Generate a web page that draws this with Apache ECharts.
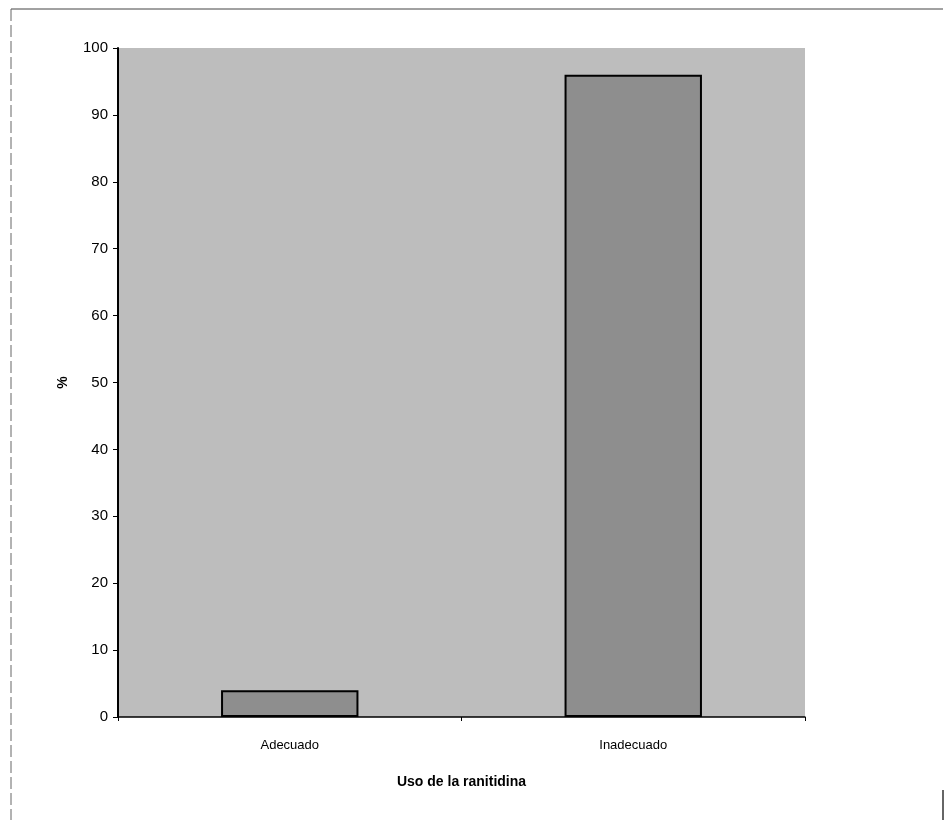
<!DOCTYPE html>
<html>
<head>
<meta charset="utf-8">
<script src="https://cdn.jsdelivr.net/npm/echarts@6/dist/echarts.min.js"></script>
<style>
html,body{margin:0;padding:0;background:#fff;}
#chart{width:947px;height:820px;}
</style>
</head>
<body>
<div id="chart"></div>
<script>
const categories = ['Adecuado', 'Inadecuado'];
const values = [4, 96];
const yTicks = [0, 10, 20, 30, 40, 50, 60, 70, 80, 90, 100];
const yAxisTitle = '%';
const xAxisTitle = 'Uso de la ranitidina';

const chart = echarts.init(document.getElementById('chart'));
chart.setOption({
  backgroundColor: '#ffffff',
  animation: false,
  grid: {
    left: 118, right: 142, top: 48, bottom: 103,
    show: true, backgroundColor: '#bdbdbd', borderWidth: 0
  },
  xAxis: {
    type: 'category',
    data: categories,
    name: xAxisTitle,
    nameLocation: 'middle',
    nameGap: 58,
    nameTextStyle: { fontFamily: 'Liberation Sans, Arial', fontSize: 14, fontWeight: 'bold', color: '#000' },
    axisLine: { lineStyle: { color: '#000', width: 1.5 } },
    axisTick: { show: true, alignWithLabel: false, length: 4, lineStyle: { color: '#000' } },
    axisLabel: { color: '#000', fontFamily: 'Liberation Sans, Arial', fontSize: 13, margin: 22 }
  },
  yAxis: {
    type: 'value',
    min: yTicks[0], max: yTicks[yTicks.length - 1], interval: 10,
    name: yAxisTitle,
    nameLocation: 'middle',
    nameGap: 48,
    nameRotate: 90,
    nameTextStyle: { fontFamily: 'Liberation Sans, Arial', fontSize: 14, fontWeight: 'bold', color: '#000' },
    axisLine: { show: true, lineStyle: { color: '#000', width: 2 } },
    axisTick: { show: true, length: 5, lineStyle: { color: '#000' } },
    splitLine: { show: false },
    axisLabel: { color: '#000', fontFamily: 'Liberation Sans, Arial', fontSize: 15, margin: 10 }
  },
  series: [{
    type: 'bar',
    data: values,
    barWidth: '40%',
    itemStyle: { color: '#8e8e8e', borderColor: '#000', borderWidth: 2 }
  }],
  graphic: [
    { type: 'line', shape: { x1: 11, y1: 9, x2: 943, y2: 9 }, style: { stroke: '#444', lineWidth: 1 } },
    { type: 'line', shape: { x1: 11, y1: 9, x2: 11, y2: 820 }, style: { stroke: '#666', lineWidth: 1, lineDash: [12, 4] } },
    { type: 'line', shape: { x1: 943, y1: 790, x2: 943, y2: 820 }, style: { stroke: '#333', lineWidth: 1.5 } }
  ]
});
</script>
</body>
</html>
